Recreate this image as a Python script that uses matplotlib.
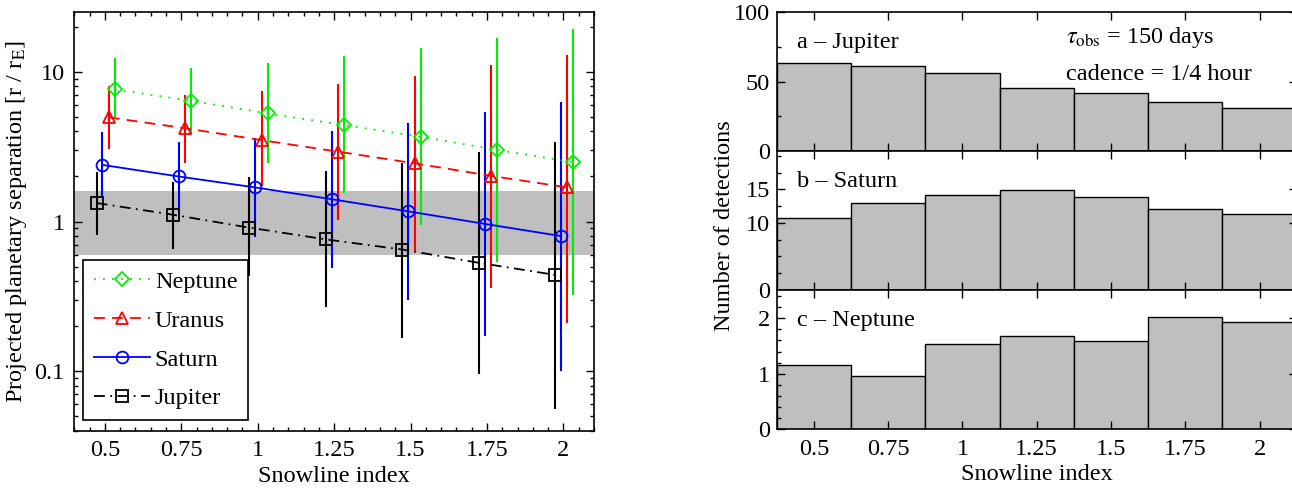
import matplotlib
matplotlib.use('Agg')
import matplotlib.pyplot as plt
from matplotlib.ticker import FixedLocator, MultipleLocator, FuncFormatter, LogLocator, NullFormatter
import numpy as np

plt.rcParams['font.family'] = ['Liberation Serif', 'DejaVu Serif']
plt.rcParams['mathtext.fontset'] = 'stix'
plt.rcParams['font.size'] = 17.5

# snowline index values
snowline = [0.5, 0.75, 1.0, 1.25, 1.5, 1.75, 2.0]
snowline_labels = ['0.5', '0.75', '1', '1.25', '1.5', '1.75', '2']

# projected separation (median, low, high) per planet
jupiter_sep = [1.33, 1.11, 0.91, 0.76, 0.65, 0.53, 0.44]
jupiter_lo = [0.815, 0.66, 0.43, 0.267, 0.167, 0.095, 0.056]
jupiter_hi = [2.15, 1.85, 1.97, 2.19, 2.45, 2.93, 3.41]

saturn_sep = [2.39, 2.0, 1.69, 1.41, 1.17, 0.965, 0.80]
saturn_lo = [1.47, 1.17, 0.79, 0.49, 0.30, 0.171, 0.10]
saturn_hi = [3.98, 3.41, 3.6, 4.02, 4.57, 5.41, 6.3]

uranus_sep = [4.97, 4.2, 3.5, 2.93, 2.45, 2.02, 1.69]
uranus_lo = [3.04, 2.45, 1.74, 1.02, 0.63, 0.36, 0.21]
uranus_hi = [8.0, 7.0, 7.4, 8.3, 9.4, 11.1, 12.9]

neptune_sep = [7.63, 6.41, 5.28, 4.41, 3.69, 3.01, 2.49]
neptune_lo = [5.0, 3.78, 2.45, 1.56, 0.95, 0.54, 0.325]
neptune_hi = [12.3, 10.7, 11.5, 12.8, 14.5, 16.8, 19.5]

# number of detections
jupiter_det = [63.2, 61.3, 56.0, 45.2, 42.0, 35.3, 31.0]
saturn_det = [10.7, 12.9, 14.2, 14.9, 13.9, 12.1, 11.4]
neptune_det = [1.16, 0.96, 1.53, 1.68, 1.59, 2.03, 1.93]

fig = plt.figure(figsize=(12.92, 4.91), dpi=100)

# ---- left panel ----
ax = fig.add_axes([0.0575, 0.1228, 0.4022, 0.852])
ax.axhspan(0.6, 1.6, color='#bfbfbf', lw=0, zorder=0)

series = [
    ('Jupiter', jupiter_sep, jupiter_lo, jupiter_hi, 'k', 's', (0, (6, 3, 1, 3)), -0.027),
    ('Saturn', saturn_sep, saturn_lo, saturn_hi, 'b', 'o', '-', -0.008),
    ('Uranus', uranus_sep, uranus_lo, uranus_hi, 'r', '^', (0, (6, 4)), 0.013),
    ('Neptune', neptune_sep, neptune_lo, neptune_hi, '#00ee00', 'D', (0, (1, 4)), 0.033),
]
handles = {}
for name, y, lo, hi, c, m, ls, off in series:
    x = np.array(snowline) + off
    y = np.array(y)
    yerr = [y - np.array(lo), np.array(hi) - y]
    ax.errorbar(x, y, yerr=yerr, fmt='none', ecolor=c, elinewidth=1.5, capsize=0, zorder=2)
    ms = 8.5 if m != 'D' else 7.5
    h, = ax.plot(x, y, color=c, ls=ls, lw=1.3, marker=m, ms=ms, mfc='none', mec=c, mew=1.3, zorder=3, label=name)
    handles[name] = h

ax.set_yscale('log')
ax.set_xlim(0.4, 2.1)
ax.set_ylim(0.04, 25)
ax.xaxis.set_major_locator(FixedLocator(snowline))
ax.set_xticklabels(snowline_labels)
ax.xaxis.set_minor_locator(MultipleLocator(0.05))
ax.yaxis.set_major_locator(FixedLocator([0.1, 1, 10]))
ax.yaxis.set_major_formatter(FuncFormatter(lambda v, p: '%g' % v))
ax.yaxis.set_minor_locator(LogLocator(base=10, subs=np.arange(2, 10)))
ax.yaxis.set_minor_formatter(NullFormatter())
ax.tick_params(which='both', direction='in', top=True, right=True, width=1)
ax.tick_params(which='major', length=6, pad=7)
ax.tick_params(which='minor', length=3)
for s in ax.spines.values():
    s.set_linewidth(1.2)
ax.set_xlabel('Snowline index', labelpad=3)
ax.set_ylabel(r'Projected planetary separation [r / r$_\mathrm{E}$]', labelpad=4)
leg = ax.legend([handles[n] for n in ['Neptune', 'Uranus', 'Saturn', 'Jupiter']],
                ['Neptune', 'Uranus', 'Saturn', 'Jupiter'],
                loc='lower left', bbox_to_anchor=(0.017, 0.025), borderaxespad=0,
                handlelength=2.3, labelspacing=0.69, fancybox=False, framealpha=1,
                edgecolor='k', borderpad=0.45, handletextpad=0.2)
leg.get_frame().set_linewidth(1.2)

# ---- right panels ----
left = 0.6012
width = 0.4024
panels = [
    (0.6925, jupiter_det, (0, 100), [0, 50, 100], 25, 'a \u2013 Jupiter'),
    (0.4094, saturn_det, (0, 20.7), [0, 10, 15], 2.5, 'b \u2013 Saturn'),
    (0.1263, neptune_det, (0, 2.51), [0, 1, 2], 0.2, 'c \u2013 Neptune'),
]
axes_r = []
for bottom, vals, ylim, yt, minor, label in panels:
    a = fig.add_axes([left, bottom, width, 0.2828])
    a.bar(snowline, vals, width=0.25, color='#bfbfbf', edgecolor='k', linewidth=1)
    a.set_xlim(0.375, 2.125)
    a.set_ylim(*ylim)
    a.yaxis.set_major_locator(FixedLocator(yt))
    a.yaxis.set_minor_locator(MultipleLocator(minor))
    a.xaxis.set_major_locator(FixedLocator(snowline))
    a.yaxis.set_major_formatter(FuncFormatter(lambda v, p: '%g' % v))
    a.tick_params(which='both', direction='in', top=True, right=True, width=1)
    a.tick_params(which='major', length=6, pad=5)
    a.tick_params(which='minor', length=3)
    a.tick_params(axis='x', pad=7)
    for s in a.spines.values():
        s.set_linewidth(1.2)
    a.text(0.039, 0.78, label, transform=a.transAxes, ha='left', va='center')
    axes_r.append(a)

for a in axes_r[:2]:
    a.set_xticklabels([])
axes_r[2].set_xticklabels(snowline_labels)
axes_r[2].set_xlabel('Snowline index', labelpad=3)

axes_r[0].text(0.556, 0.82, r'$\tau_\mathrm{obs}$ = 150 days', transform=axes_r[0].transAxes,
               ha='left', va='center')
axes_r[0].text(0.556, 0.55, 'cadence = 1/4 hour', transform=axes_r[0].transAxes,
               ha='left', va='center')

fig.text(0.561, 0.54, 'Number of detections', rotation=90, ha='center', va='center')

fig.savefig('out.png', dpi=100)
